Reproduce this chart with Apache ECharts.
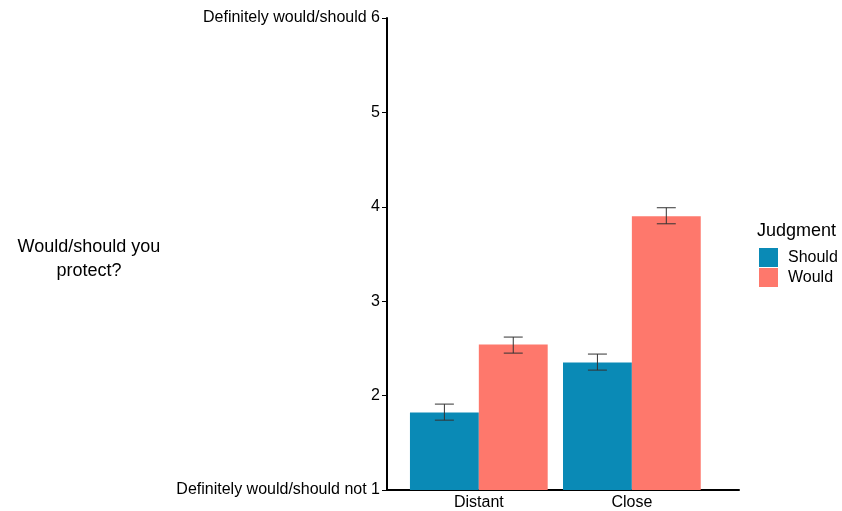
<!DOCTYPE html>
<html>
<head>
<meta charset="utf-8">
<script src="https://cdn.jsdelivr.net/npm/echarts@6/dist/echarts.min.js"></script>
<style>
  html, body { margin: 0; padding: 0; background: #fff; }
  #chart { width: 842px; height: 511px; }
</style>
</head>
<body>
<div id="chart"></div>
<script>
// values (means with error bar limits)
const categories = ['Distant', 'Close']
const shouldMean = [1.82, 2.35]
const shouldLow = [1.74, 2.27]
const shouldHigh = [1.91, 2.44]
const wouldMean = [2.54, 3.90]
const wouldLow = [2.45, 3.82]
const wouldHigh = [2.62, 3.99]
const yTicks = [1, 2, 3, 4, 5, 6]

const barHalf = 0.225
const capHalf = 0.062

function rows(mean, low, high) {
  return categories.map((c, i) => [i + 1, mean[i], low[i], high[i]])
}

function makeRender(offset, color) {
  return function(params, api) {
    const x = api.value(0) + offset
    const top = api.coord([x - barHalf, api.value(1)])
    const bottom = api.coord([x + barHalf, 1])
    const lo = api.coord([x, api.value(2)])
    const hi = api.coord([x, api.value(3)])
    const capL = api.coord([x - capHalf, 0])[0]
    const capR = api.coord([x + capHalf, 0])[0]
    return {
      type: 'group',
      children: [
        {
          type: 'rect',
          shape: { x: top[0], y: top[1], width: bottom[0] - top[0], height: bottom[1] - top[1] },
          style: { fill: color }
        },
        {
          type: 'line',
          shape: { x1: lo[0], y1: lo[1], x2: hi[0], y2: hi[1] },
          style: { stroke: '#333', lineWidth: 1 }
        },
        {
          type: 'line',
          shape: { x1: capL, y1: lo[1], x2: capR, y2: lo[1] },
          style: { stroke: '#333', lineWidth: 1 }
        },
        {
          type: 'line',
          shape: { x1: capL, y1: hi[1], x2: capR, y2: hi[1] },
          style: { stroke: '#333', lineWidth: 1 }
        }
      ]
    }
  }
}

const chart = echarts.init(document.getElementById('chart'))
const font = 'Liberation Sans, Arial, sans-serif'

chart.setOption({
  animation: false,
  textStyle: { fontFamily: font },
  grid: { left: 387, right: 103, top: 18, bottom: 21, outerBoundsMode: 'none' },
  title: {
    text: 'Judgment',
    left: 752,
    top: 217,
    textStyle: { fontSize: 18, fontWeight: 'normal', color: '#000', fontFamily: font }
  },
  legend: {
    orient: 'vertical',
    left: 754,
    top: 243,
    itemWidth: 19,
    itemHeight: 19,
    itemGap: 1,
    icon: 'rect',
    textStyle: { fontSize: 16, color: '#000', padding: [0, 0, 0, 5], fontFamily: font },
    data: ['Should', 'Would']
  },
  graphic: [
    {
      type: 'text',
      x: 89,
      y: 235,
      style: {
        text: 'Would/should you\nprotect?',
        fontSize: 18,
        lineHeight: 24,
        fill: '#000',
        textAlign: 'center',
        align: 'center',
        fontFamily: font
      }
    }
  ],
  xAxis: {
    type: 'value',
    min: 0.4,
    max: 2.7,
    splitLine: { show: false },
    axisLine: { show: true, onZero: false, lineStyle: { color: '#000', width: 2 } },
    axisTick: { show: false },
    axisLabel: {
      customValues: [1, 2],
      formatter: v => categories[Math.round(v) - 1] || '',
      fontSize: 16,
      color: '#000',
      margin: 5
    }
  },
  yAxis: {
    type: 'value',
    min: 1,
    max: 6,
    interval: 1,
    splitLine: { show: false },
    axisLine: { show: true, onZero: false, lineStyle: { color: '#000', width: 2 } },
    axisTick: { show: true, length: 5, lineStyle: { color: '#000', width: 1 } },
    axisLabel: {
      customValues: yTicks,
      fontSize: 16,
      color: '#000',
      margin: 7,
      formatter: v => {
        if (v === 6) return 'Definitely would/should 6'
        if (v === 1) return 'Definitely would/should not 1'
        return String(v)
      }
    }
  },
  series: [
    {
      name: 'Should',
      type: 'custom',
      itemStyle: { color: '#0a8ab6' },
      encode: { x: 0, y: [1, 2, 3] },
      renderItem: makeRender(-barHalf, '#0a8ab6'),
      data: rows(shouldMean, shouldLow, shouldHigh)
    },
    {
      name: 'Would',
      type: 'custom',
      itemStyle: { color: '#fe786c' },
      encode: { x: 0, y: [1, 2, 3] },
      renderItem: makeRender(barHalf, '#fe786c'),
      data: rows(wouldMean, wouldLow, wouldHigh)
    }
  ]
})
</script>
</body>
</html>
